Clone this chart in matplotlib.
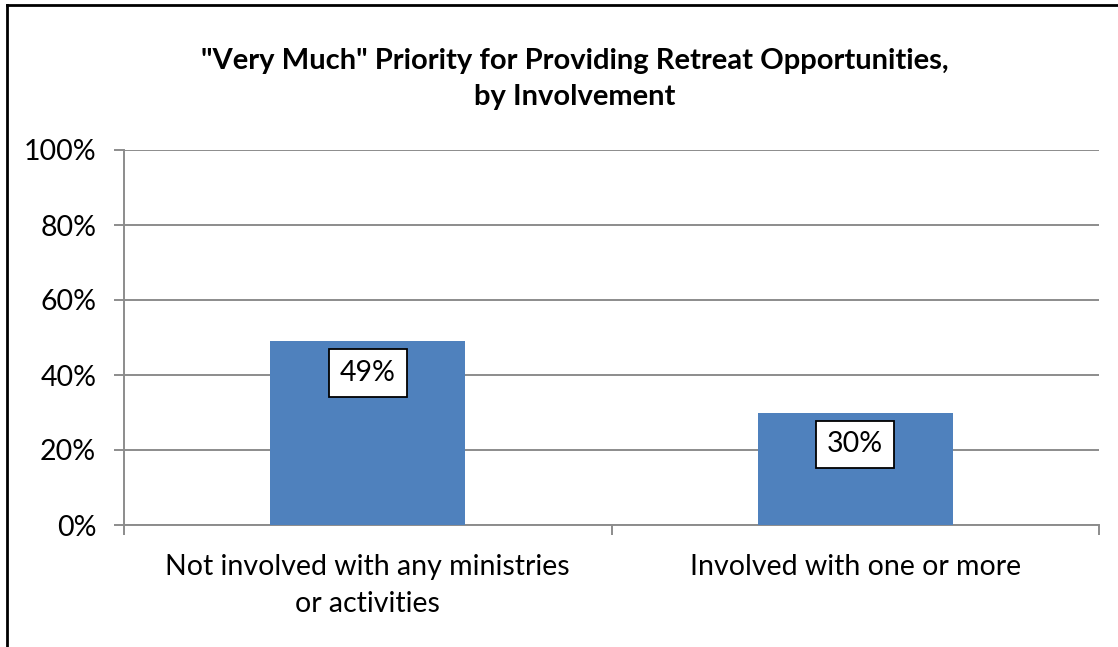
import matplotlib.pyplot as plt
from matplotlib.lines import Line2D
from matplotlib.ticker import FixedLocator

plt.rcParams['font.family'] = ['Lato', 'DejaVu Sans']

categories = ["Not involved with any ministries\nor activities", "Involved with one or more"]
values = [49, 30]
labels = ["49%", "30%"]
yticks = [0, 20, 40, 60, 80, 100]
title = '"Very Much" Priority for Providing Retreat Opportunities,\nby Involvement'

fig = plt.figure(figsize=(11.18, 6.47), dpi=100)
ax = fig.add_axes([124/1118, 1 - 525/647, (1099-124)/1118, 375/647])

x = range(len(categories))
ax.bar(x, values, width=0.4, color='#4f81bd', zorder=3)
ax.set_xlim(-0.5, 1.5)
ax.set_ylim(0, 100)

ax.set_yticks(yticks)
ax.set_yticklabels([f"{t}%" for t in yticks], fontsize=20.5)
ax.yaxis.grid(True, color='#8c8c8c', linewidth=1.4, zorder=0)
ax.set_xticks(list(x))
ax.set_xticklabels(categories, fontsize=20.5, linespacing=1.5)
ax.tick_params(axis='x', length=0, pad=21)
ax.xaxis.set_minor_locator(FixedLocator([-0.5, 0.5, 1.5]))
ax.tick_params(axis='x', which='minor', length=7, color='#8c8c8c', width=1.4)
ax.tick_params(axis='y', length=7, color='#8c8c8c', width=1.4, pad=13)

for side in ['top', 'right']:
    ax.spines[side].set_visible(False)
for side in ['left', 'bottom']:
    ax.spines[side].set_color('#8c8c8c')
    ax.spines[side].set_linewidth(1.4)

for xi, v, lab in zip(x, values, labels):
    ax.annotate(lab, (xi, v), xytext=(0, -23), textcoords='offset points',
                ha='center', va='center', fontsize=20.5, zorder=5,
                bbox=dict(boxstyle='square,pad=0.38', fc='white', ec='black', lw=1.3))

fig.text(575/1118, 1 - 79/647, title, ha='center', va='center', fontsize=21,
         fontweight='bold', linespacing=1.45)

# outer border (left and top only visible)
fig.add_artist(Line2D([7/1118, 7/1118], [0, 1 - 5/647], color='black', lw=2, transform=fig.transFigure))
fig.add_artist(Line2D([7/1118, 1], [1 - 5/647, 1 - 5/647], color='black', lw=2, transform=fig.transFigure))

fig.savefig('out.png', dpi=100)
